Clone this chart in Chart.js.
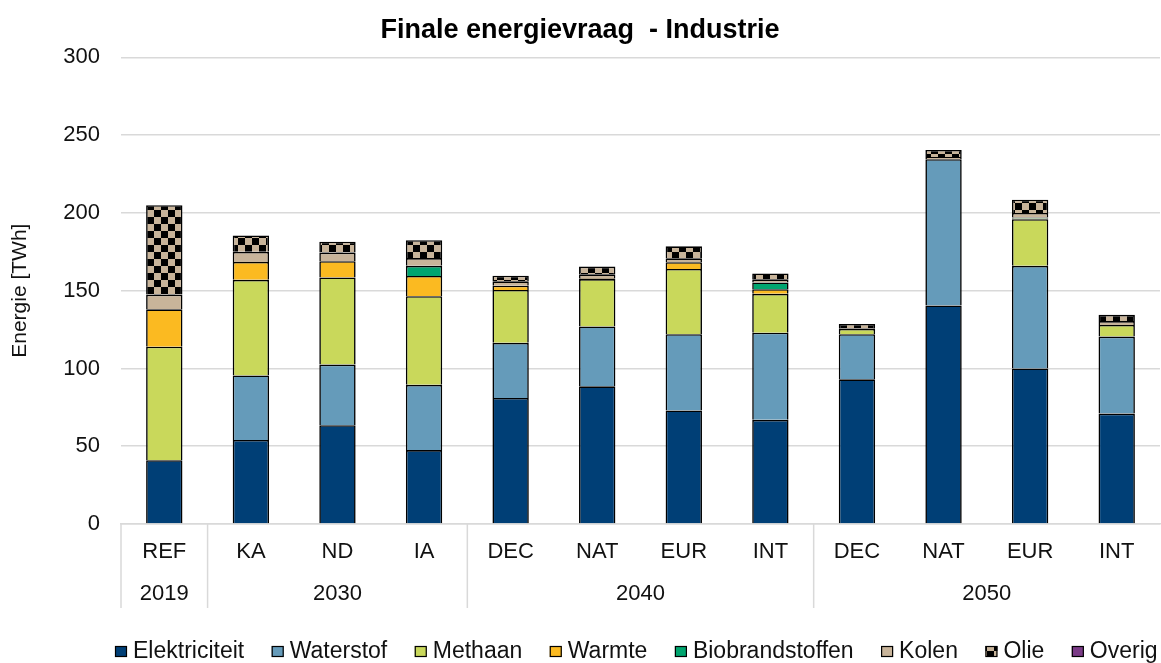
<!DOCTYPE html>
<html lang="nl">
<head>
<meta charset="utf-8">
<title>Finale energievraag - Industrie</title>
<script src="https://cdn.jsdelivr.net/npm/chart.js@4.4.1/dist/chart.umd.min.js"></script>
<style>
  html, body { margin: 0; padding: 0; background: #fff; overflow: hidden; }
  canvas { display: block; }
</style>
</head>
<body>
<canvas id="grafiek" width="1161" height="663"></canvas>
<script>
// categorieen en jaargroepen op de x-as
const categorieen = ['REF', 'KA', 'ND', 'IA', 'DEC', 'NAT', 'EUR', 'INT', 'DEC', 'NAT', 'EUR', 'INT'];
const jaren = ['2019', '2030', '2040', '2050'];
const jaarAantal = [1, 3, 4, 4];

// energievraag per drager [TWh]
const elektriciteit   = [41, 54, 63.5, 47.5, 81, 88.5, 73, 67, 93, 140.5, 100, 71];
const waterstof       = [0, 41.5, 39, 42, 35.5, 38.5, 49, 56, 29, 94, 66, 49.5];
const methaan         = [73, 61.5, 56, 57, 34, 30.5, 42, 25, 3.5, 0, 30, 7.5];
const warmte          = [24, 11.5, 10.5, 13, 2.7, 0.5, 4.3, 3, 0, 0, 0.5, 0];
const biobrandstoffen = [0, 0, 0, 6.5, 0, 0, 0, 4.3, 0, 0, 0.5, 0];
const kolen           = [9.5, 6.5, 5.5, 5, 2.8, 2.5, 2.5, 2, 0.5, 1.5, 3, 2.5];
const olie            = [57.5, 10.5, 7, 11.5, 3.6, 5, 7.7, 3.8, 2.6, 4.5, 8.5, 4];
const overig          = [0, 0, 0, 0, 0, 0, 0, 0, 0, 0, 0, 0];

const yTicks = { min: 0, max: 300, stap: 50 };

const lettertype = "'Liberation Sans', Arial, sans-serif";
const tekstKleur = '#111';
const rasterKleur = '#d9d9d9';

// geblokt patroon voor olie
function maakBlokPatroon() {
  const c = document.createElement('canvas');
  c.width = 14;
  c.height = 14;
  const g = c.getContext('2d');
  g.fillStyle = '#c8b49a';
  g.fillRect(0, 0, 14, 14);
  g.fillStyle = '#000';
  g.fillRect(0, 0, 7, 7);
  g.fillRect(7, 7, 7, 7);
  return g.createPattern(c, 'repeat');
}

const ctx = document.getElementById('grafiek').getContext('2d');
const blokPatroon = maakBlokPatroon();

function reeks(label, data, kleur) {
  return {
    label: label,
    data: data,
    backgroundColor: kleur,
    borderColor: '#000',
    borderWidth: { top: 1.6, left: 1.6, right: 1.6, bottom: 0 },
    borderSkipped: false,
    barPercentage: 0.42,
    categoryPercentage: 1
  };
}

// tweede rij labels (jaren) met scheidingslijnen
const jaarLabels = {
  id: 'jaarLabels',
  afterDraw(chart) {
    const c = chart.ctx;
    const x = chart.scales.x;
    const onder = chart.chartArea.bottom;
    const breedte = x.getPixelForValue(1) - x.getPixelForValue(0);
    c.save();
    c.strokeStyle = rasterKleur;
    c.lineWidth = 1.5;
    c.fillStyle = tekstKleur;
    c.font = '22px ' + lettertype;
    c.textAlign = 'center';
    c.textBaseline = 'middle';
    let start = 0;
    jaren.forEach((jaar, i) => {
      const eind = start + jaarAantal[i] - 1;
      const links = x.getPixelForValue(start) - breedte / 2;
      c.beginPath();
      c.moveTo(links, onder);
      c.lineTo(links, onder + 84);
      c.stroke();
      const midden = (x.getPixelForValue(start) + x.getPixelForValue(eind)) / 2;
      c.fillText(jaar, midden, onder + 70);
      start = eind + 1;
    });
    c.restore();
  }
};

// legenda onderaan, links beginnend
const legenda = {
  id: 'legenda',
  afterDraw(chart) {
    const c = chart.ctx;
    const basis = 658;
    let x = 115;
    c.save();
    c.font = '23px ' + lettertype;
    c.textBaseline = 'alphabetic';
    c.textAlign = 'left';
    chart.data.datasets.forEach(ds => {
      c.fillStyle = ds.backgroundColor;
      c.fillRect(x, 646, 12, 11);
      c.strokeStyle = '#000';
      c.lineWidth = 1.2;
      c.strokeRect(x + 0.5, 646.5, 11, 10);
      c.fillStyle = tekstKleur;
      c.fillText(ds.label, x + 18, basis);
      x += 18 + c.measureText(ds.label).width + 27.5;
    });
    c.restore();
  }
};

new Chart(ctx, {
  type: 'bar',
  data: {
    labels: categorieen,
    datasets: [
      reeks('Elektriciteit', elektriciteit, '#003f76'),
      reeks('Waterstof', waterstof, '#659bba'),
      reeks('Methaan', methaan, '#c9d85b'),
      reeks('Warmte', warmte, '#fbba21'),
      reeks('Biobrandstoffen', biobrandstoffen, '#00a56f'),
      reeks('Kolen', kolen, '#c8b49a'),
      reeks('Olie', olie, blokPatroon),
      reeks('Overig', overig, '#7b3b87')
    ]
  },
  options: {
    responsive: false,
    animation: false,
    layout: { padding: { left: 0, right: 1, top: 0, bottom: 0 } },
    plugins: {
      legend: { display: false },
      tooltip: { enabled: false },
      title: {
        display: true,
        text: 'Finale energievraag  - Industrie',
        color: '#000',
        font: { family: lettertype, size: 27, weight: 'bold' },
        padding: { top: 14, bottom: 11 }
      }
    },
    scales: {
      x: {
        stacked: true,
        grid: { display: false, drawTicks: false },
        border: { display: true, color: rasterKleur, width: 1.5 },
        ticks: {
          color: tekstKleur,
          font: { family: lettertype, size: 22 },
          padding: 15,
          maxRotation: 0,
          autoSkip: false
        },
        afterFit(scale) { scale.height = 139; }
      },
      y: {
        stacked: true,
        min: yTicks.min,
        max: yTicks.max,
        grid: { color: rasterKleur, lineWidth: 1.5, drawTicks: false },
        border: { display: false },
        ticks: {
          stepSize: yTicks.stap,
          color: tekstKleur,
          font: { family: lettertype, size: 22 },
          padding: 21
        },
        title: {
          display: true,
          text: 'Energie [TWh]',
          color: tekstKleur,
          font: { family: lettertype, size: 21 },
          padding: { top: 8, bottom: 0 }
        },
        afterFit(scale) { scale.width = 121; }
      }
    }
  },
  plugins: [jaarLabels, legenda]
});
</script>
</body>
</html>
